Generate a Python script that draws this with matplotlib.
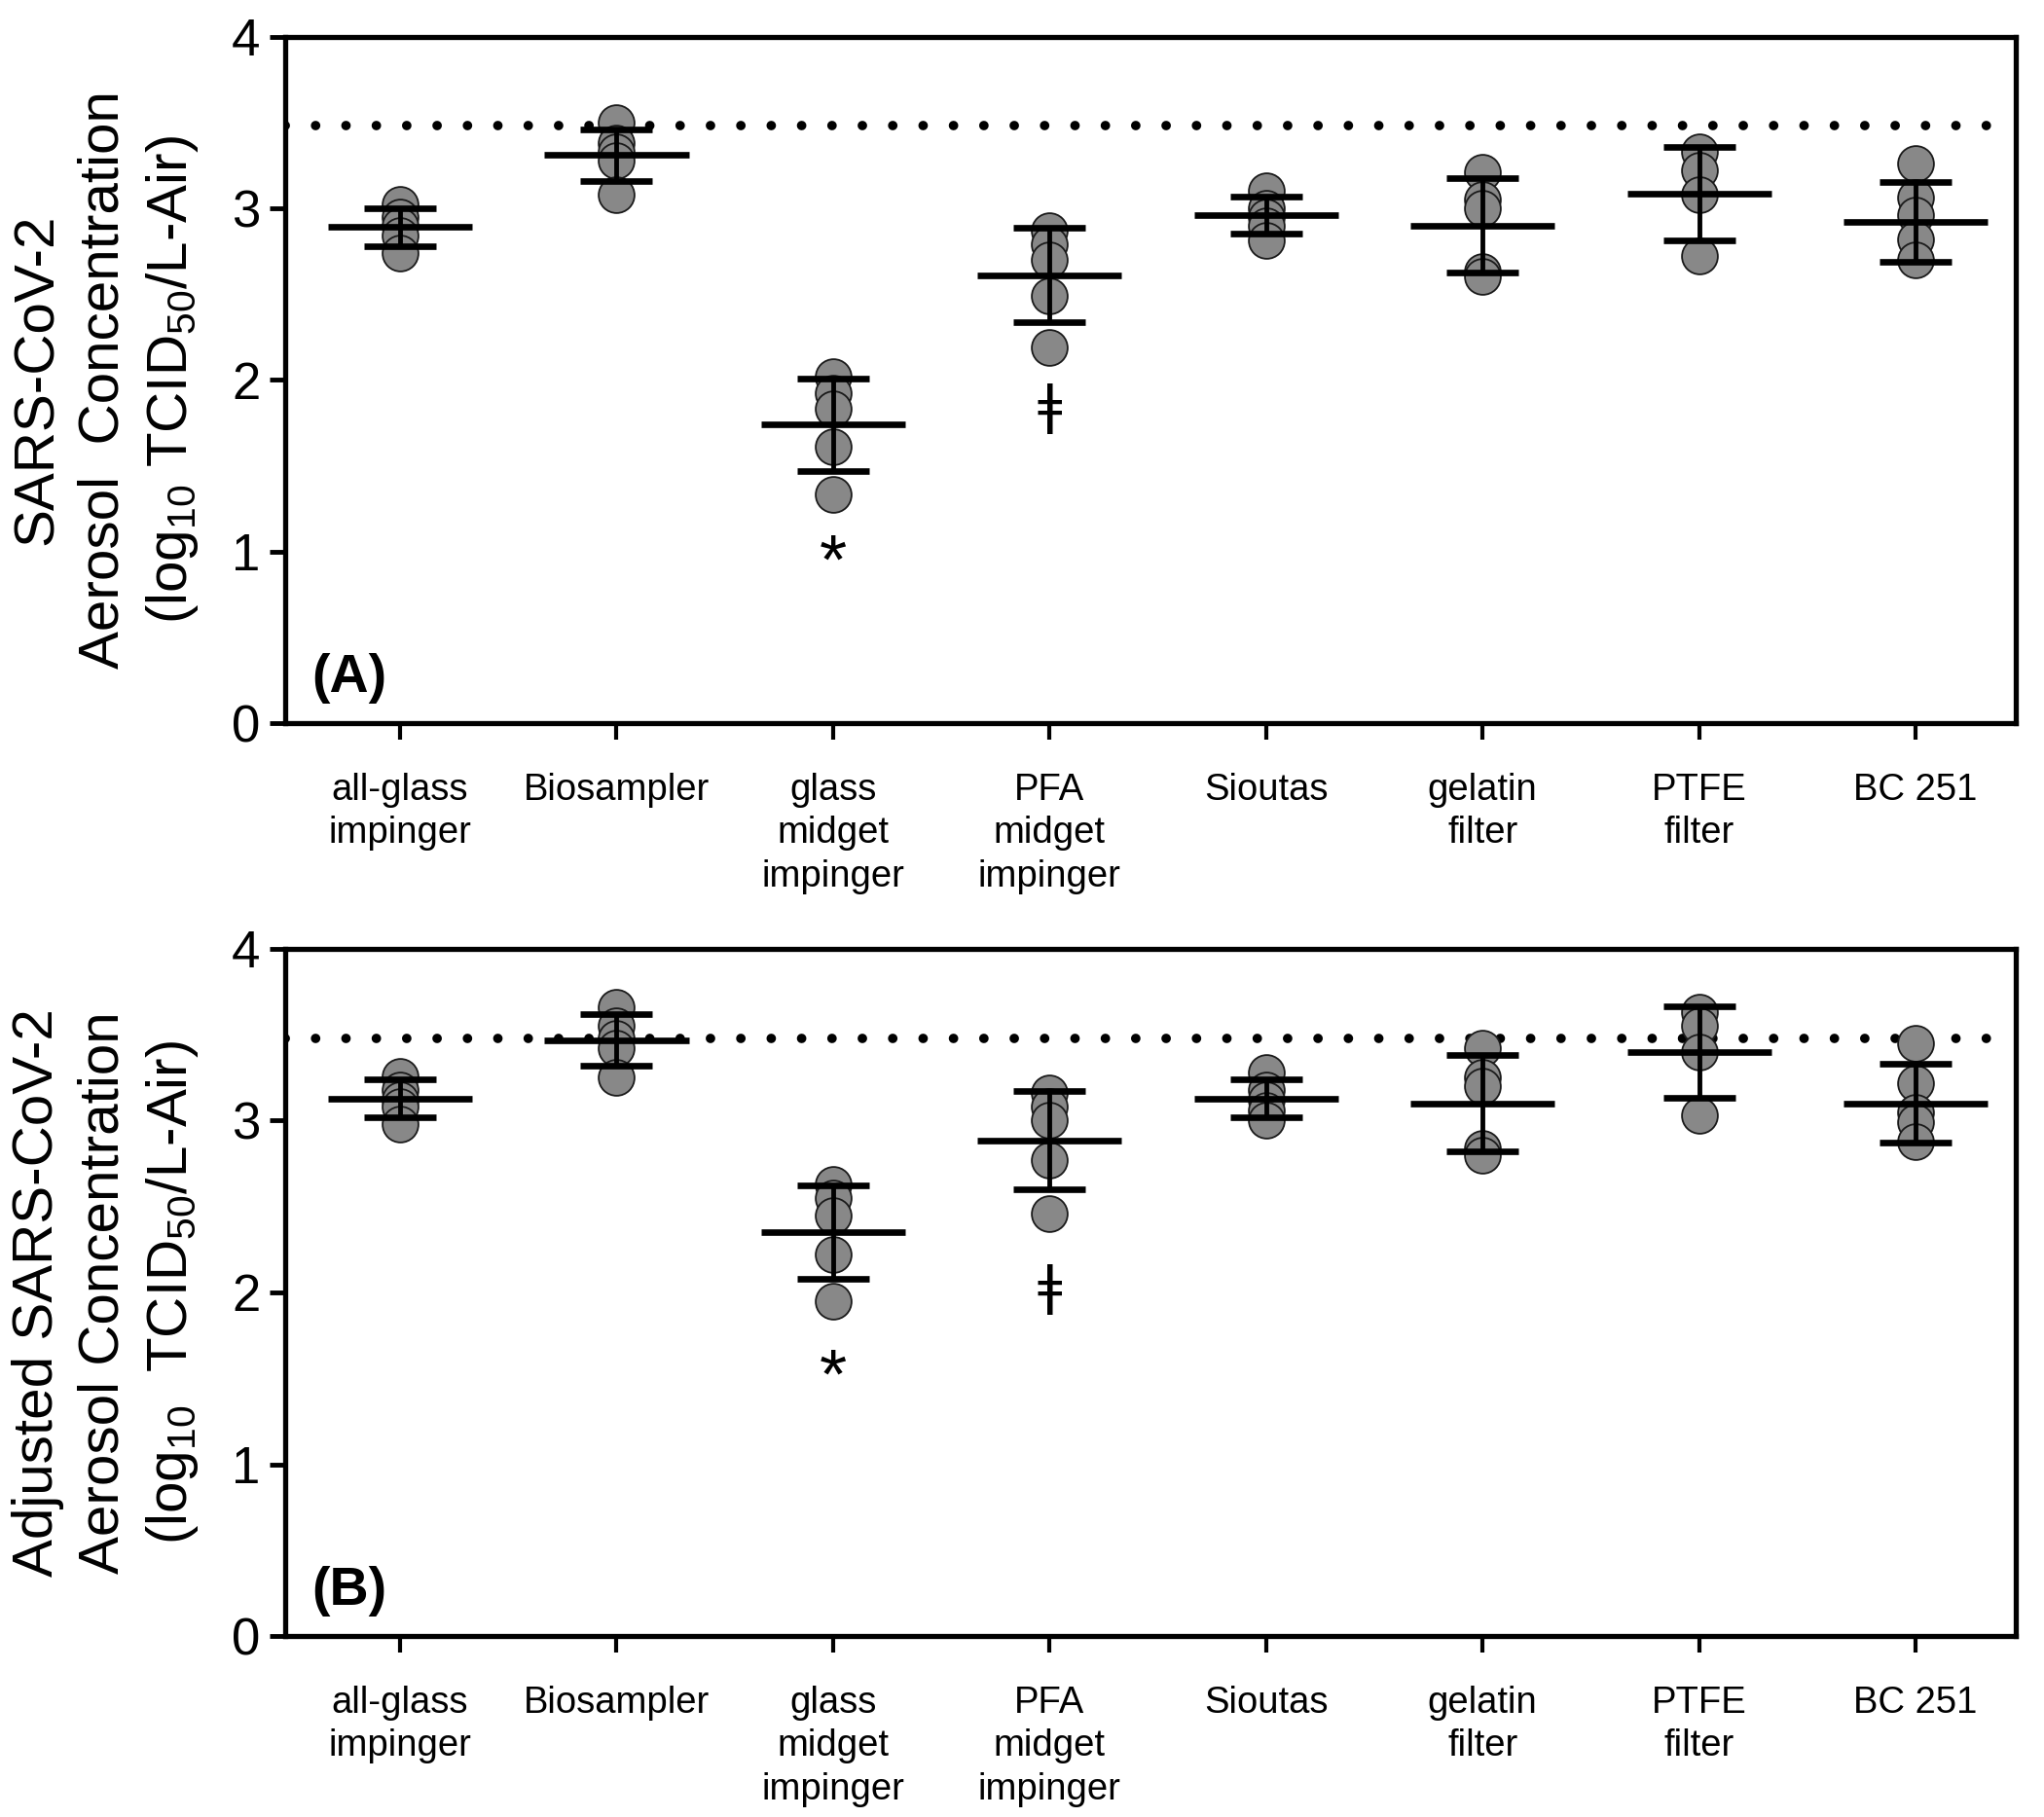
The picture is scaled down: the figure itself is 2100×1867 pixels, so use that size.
import numpy as np
import matplotlib.pyplot as plt

plt.rcParams['font.family'] = ['Liberation Sans', 'DejaVu Sans']
plt.rcParams['mathtext.fontset'] = 'custom'
plt.rcParams['mathtext.rm'] = 'Liberation Sans'
plt.rcParams['mathtext.it'] = 'Liberation Sans:italic'
plt.rcParams['mathtext.bf'] = 'Liberation Sans:bold'

samplers = ['all-glass\nimpinger', 'Biosampler', 'glass\nmidget\nimpinger', 'PFA\nmidget\nimpinger',
            'Sioutas', 'gelatin\nfilter', 'PTFE\nfilter', 'BC 251']

# panel A: individual points, means, SDs
pts_a = [
    [3.02, 2.95, 2.90, 2.84, 2.74],
    [3.50, 3.38, 3.33, 3.28, 3.08],
    [2.02, 1.92, 1.83, 1.61, 1.33],
    [2.87, 2.79, 2.70, 2.49, 2.19],
    [3.10, 3.00, 2.95, 2.90, 2.81],
    [3.21, 3.05, 3.00, 2.63, 2.60],
    [3.33, 3.22, 3.08, 2.72],
    [3.26, 3.06, 2.96, 2.82, 2.70],
]
mean_a = [2.89, 3.31, 1.74, 2.61, 2.96, 2.90, 3.085, 2.92]
sd_a = [0.11, 0.15, 0.27, 0.275, 0.11, 0.275, 0.27, 0.235]

# panel B: adjusted concentrations
pts_b = [
    [3.26, 3.18, 3.12, 3.08, 2.98],
    [3.66, 3.55, 3.48, 3.42, 3.25],
    [2.63, 2.55, 2.45, 2.22, 1.95],
    [3.16, 3.08, 3.00, 2.77, 2.46],
    [3.28, 3.18, 3.12, 3.06, 3.00],
    [3.42, 3.25, 3.20, 2.84, 2.80],
    [3.63, 3.55, 3.40, 3.03],
    [3.45, 3.22, 3.05, 2.99, 2.88],
]
mean_b = [3.13, 3.47, 2.35, 2.885, 3.13, 3.10, 3.40, 3.10]
sd_b = [0.11, 0.15, 0.273, 0.285, 0.11, 0.28, 0.265, 0.23]

ref_level = 3.48
# significance marks: (sampler index, y, symbol)
marks_a = [(2, 0.92, '*'), (3, 1.84, '\u01c2')]
marks_b = [(2, 1.49, '*'), (3, 2.02, '\u01c2')]

ylabels = ['SARS-CoV-2\nAerosol  Concentration\n(log$_{10}$ TCID$_{50}$/L-Air)',
           'Adjusted SARS-CoV-2\nAerosol Concentration\n(log$_{10}$  TCID$_{50}$/L-Air)']
panel_tags = ['(A)', '(B)']

fig = plt.figure(figsize=(21, 18.67), dpi=100)
axA = fig.add_axes([0.1395, 0.602, 0.8467, 0.3779])
axB = fig.add_axes([0.1395, 0.0996, 0.8467, 0.3782])

x = np.arange(len(samplers))
for ax, pts, means, sds, marks, ylab, tag in [
        (axA, pts_a, mean_a, sd_a, marks_a, ylabels[0], panel_tags[0]),
        (axB, pts_b, mean_b, sd_b, marks_b, ylabels[1], panel_tags[1])]:
    ax.axhline(ref_level, color='black', lw=7, linestyle=(0, (0.01, 3.2)),
               dash_capstyle='round', zorder=1)
    for i, vals in enumerate(pts):
        ax.plot(np.full(len(vals), x[i]), vals, linestyle='none', marker='o',
                ms=26.5, mfc='#888888', mec='#1a1a1a', mew=1.3, zorder=2)
    ax.errorbar(x, means, yerr=sds, fmt='none', ecolor='black', elinewidth=3.5,
                capsize=26.3, capthick=4.8, zorder=3)
    ax.hlines(means, x - 0.333, x + 0.333, color='black', lw=4.8, zorder=3)
    for i, y, s in marks:
        if s == '*':
            ax.text(x[i], y, s, ha='center', va='center', fontsize=52)
        else:
            ax.text(x[i], y, s, ha='center', va='center', fontsize=40,
                    family=['DejaVu Sans'])
    ax.text(0.0152, 0.065, tag, transform=ax.transAxes, fontsize=40, fontweight='bold',
            va='center', ha='left')

    ax.set_xlim(-0.531, 7.463)
    ax.set_ylim(0, 4)
    ax.set_yticks([0, 1, 2, 3, 4])
    ax.set_xticks(x)
    ax.set_xticklabels(samplers, fontsize=27.5, linespacing=1.3)
    ax.tick_params(axis='y', labelsize=38, length=11.5, width=3.5, pad=7)
    ax.tick_params(axis='x', length=12.5, width=3, pad=24)
    for sp in ax.spines.values():
        sp.set_linewidth(3.8)
    ax.set_ylabel(ylab, fontsize=42, linespacing=1.33, ha='center', va='center',
                  rotation_mode='default')
    ax.yaxis.set_label_coords(-0.1035, 0.5)

fig.savefig('out.png', dpi=100)
